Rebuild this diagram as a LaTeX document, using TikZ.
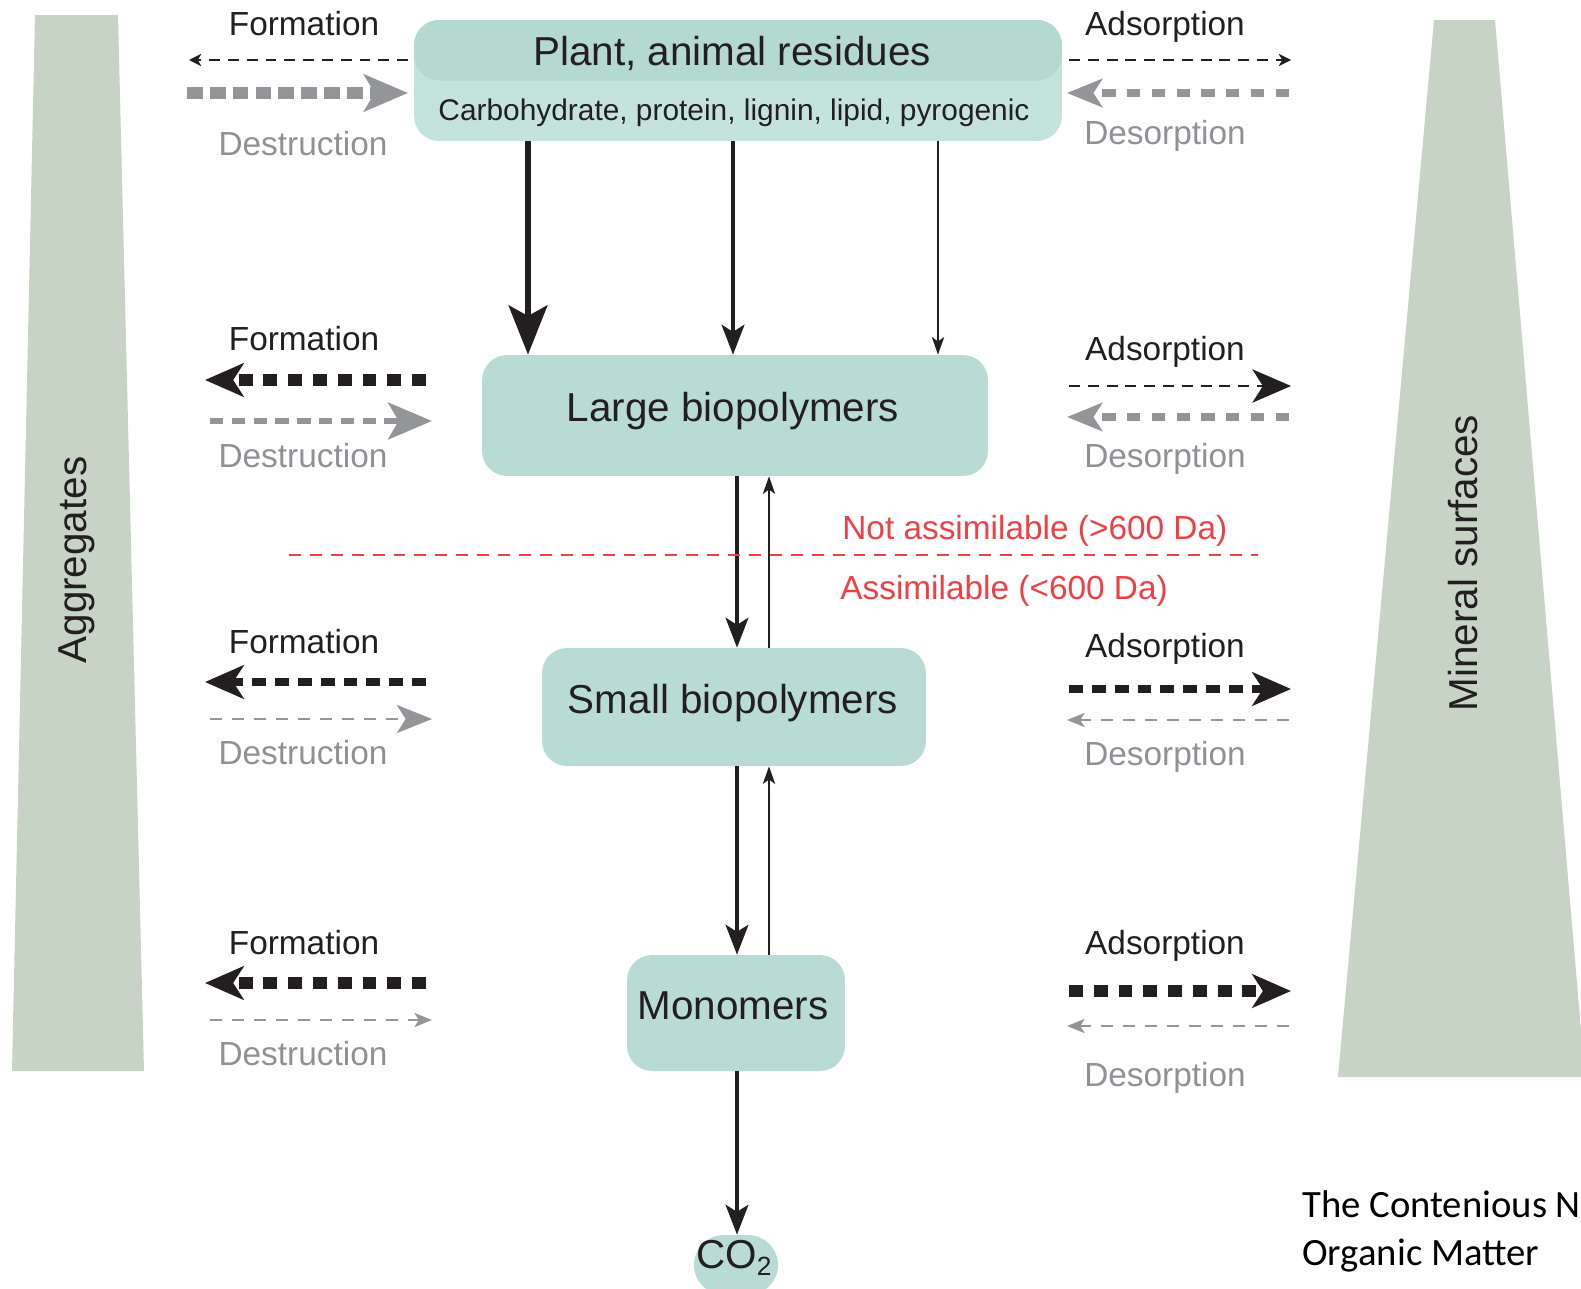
\documentclass[tikz,border=0pt]{standalone}
\usepackage{fontspec}
\setmainfont{Liberation Sans}
\newfontfamily\calibfont{Carlito}
\usetikzlibrary{arrows.meta}
\definecolor{boxc}{HTML}{B8DCD5}
\definecolor{boxtop}{HTML}{B3D9D1}
\definecolor{boxlow}{HTML}{C4E3DD}
\definecolor{trapc}{HTML}{C7D4C5}
\definecolor{inkc}{HTML}{231F20}
\definecolor{greyc}{HTML}{939598}
\definecolor{greytxt}{HTML}{8F9196}
\definecolor{redc}{HTML}{EE4046}
\begin{document}
\begin{tikzpicture}[x=0.02cm,y=-0.02cm,
  box/.style={fill=boxc, rounded corners=0.5cm, inner sep=0pt},
  lbl/.style={font=\fontsize{19}{23}\selectfont, text=inkc, anchor=base, inner sep=0pt},
  glbl/.style={lbl, text=greytxt},
  ttl/.style={font=\fontsize{23}{27}\selectfont, text=inkc, anchor=base, inner sep=0pt},
  subttl/.style={font=\fontsize{17}{20}\selectfont, text=inkc, anchor=base, inner sep=0pt},
  redlbl/.style={font=\fontsize{19}{23}\selectfont, text=redc, anchor=base west, inner sep=0pt},
  sidelbl/.style={font=\fontsize{23}{27}\selectfont, text=inkc, rotate=90, inner sep=0pt},
  blksq/.style={draw=inkc, line width=6.8pt, dash pattern=on 7.9pt off 6.2pt},
  blkmed/.style={draw=inkc, line width=4.5pt, dash pattern=on 7.9pt off 5.1pt},
  blkthin/.style={draw=inkc, line width=1.1pt, dash pattern=on 6.2pt off 4.5pt},
  greysqbig/.style={draw=greyc, line width=6.8pt, dash pattern=on 9pt off 4pt},
  greysq/.style={draw=greyc, line width=5.1pt, dash pattern=on 7.6pt off 6.5pt},
  greymed/.style={draw=greyc, line width=3.4pt, dash pattern=on 7.6pt off 4.8pt},
  greythin/.style={draw=greyc, line width=1.4pt, dash pattern=on 6.8pt off 5.7pt},
  greythinner/.style={draw=greyc, line width=1pt, dash pattern=on 6.8pt off 5.7pt},
  bighead/.style={-{Stealth[length=22pt, width=19pt, inset=6pt]}},
  biggrey/.style={-{Stealth[length=25pt, width=21pt, inset=6pt]}},
  midhead/.style={-{Stealth[length=20pt, width=16pt, inset=5pt]}},
  smallhead/.style={-{Stealth[length=10pt, width=8pt, inset=2.5pt]}},
  tinyhead/.style={-{Stealth[length=7pt, width=7pt, inset=2pt]}},
  vthick/.style={draw=inkc, line width=3.4pt, -{Stealth[length=28pt, width=22pt, inset=6pt]}},
  vmed/.style={draw=inkc, line width=2pt, -{Stealth[length=17pt, width=13pt, inset=4pt]}},
  vthin/.style={draw=inkc, line width=0.85pt, -{Stealth[length=10pt, width=7pt, inset=2.5pt]}}
]
\useasboundingbox (0,0) rectangle (1581,1288);
\clip (0,0) rectangle (1581,1288);

% side trapezoids
\fill[trapc] (35,15) -- (118,15) -- (144,1071) -- (12,1071) -- cycle;
\fill[trapc] (1434,20) -- (1495,20) -- (1585,1077) -- (1338,1077) -- cycle;
\node[sidelbl] (agg) at (77,560) {Aggregates};
\node[sidelbl] (mins) at (1463,563) {Mineral surfaces};

% boxes
\node[fill=boxlow, rounded corners=0.5cm, inner sep=0pt, minimum width=12.96cm, minimum height=2.42cm,
  path picture={\fill[boxtop] (path picture bounding box.north west) rectangle (path picture bounding box.east);}]
  (top) at (738,80.5) {};
\node[box, minimum width=10.12cm, minimum height=2.42cm] (large) at (735,415.5) {};
\node[box, minimum width=7.68cm, minimum height=2.36cm] (small) at (734,707) {};
\node[box, minimum width=4.36cm, minimum height=2.32cm] (mono) at (736,1013) {};
\node[box, rounded corners=0.6cm, minimum width=1.68cm, minimum height=1.2cm] (co2) at (736,1265) {};

\node[ttl] (t1) at (732,65) {Plant, animal residues};
\node[subttl] (t2) at (734,120) {Carbohydrate, protein, lignin, lipid, pyrogenic};
\node[ttl] (t3) at (733,421) {Large biopolymers};
\node[ttl] (t4) at (733,713) {Small biopolymers};
\node[ttl] (t5) at (733,1019) {Monomers};
\node[ttl] (t6) at (734,1268) {CO\raisebox{-4.5pt}{\fontsize{15}{15}\selectfont 2}};

% vertical arrows
\coordinate (xa) at (528,0);
\coordinate (xb) at (733,0);
\coordinate (xc) at (938,0);
\coordinate (xd) at (737,0);
\coordinate (xu) at (769,0);
\draw[vthick] (top.south -| xa) -- (large.north -| xa);
\draw[vmed] (top.south -| xb) -- (large.north -| xb);
\draw[vthin] (top.south -| xc) -- (large.north -| xc);
\draw[vmed] (large.south -| xd) -- (small.north -| xd);
\draw[vthin] (small.north -| xu) -- (large.south -| xu);
\draw[vmed] (small.south -| xd) -- (mono.north -| xd);
\draw[vthin] (mono.north -| xu) -- (small.south -| xu);
\draw[vmed] (mono.south -| xd) -- (co2.north -| xd);

% red threshold
\coordinate (rl) at (289,555);
\coordinate (rr) at (1258,555);
\draw[redc, line width=1.2pt, dash pattern=on 6.8pt off 5.1pt] (rl) -- (rr);
\node[redlbl] (na) at (842,539) {Not assimilable (>600 Da)};
\node[redlbl] (as) at (840,599) {Assimilable (<600 Da)};

% left side labels
\node[lbl] (f1) at (304,35) {Formation};
\node[glbl] (d1) at (303,155) {Destruction};
\node[lbl] (f2) at (304,350) {Formation};
\node[glbl] (d2) at (303,467) {Destruction};
\node[lbl] (f3) at (304,653) {Formation};
\node[glbl] (d3) at (303,764) {Destruction};
\node[lbl] (f4) at (304,954) {Formation};
\node[glbl] (d4) at (303,1065) {Destruction};

% right side labels
\node[lbl] (a1) at (1165,35) {Adsorption};
\node[glbl] (s1) at (1165,144) {Desorption};
\node[lbl] (a2) at (1165,360) {Adsorption};
\node[glbl] (s2) at (1165,467) {Desorption};
\node[lbl] (a3) at (1165,657) {Adsorption};
\node[glbl] (s3) at (1165,765) {Desorption};
\node[lbl] (a4) at (1165,954) {Adsorption};
\node[glbl] (s4) at (1165,1086) {Desorption};

% left side arrows
\coordinate (f1s) at (408,60);  \coordinate (f1e) at (189,60);
\coordinate (d1s) at (187,93);  \coordinate (d1e) at (408,93);
\coordinate (f2s) at (426,380); \coordinate (f2e) at (205,380);
\coordinate (d2s) at (210,421); \coordinate (d2e) at (432,421);
\coordinate (f3s) at (426,682); \coordinate (f3e) at (205,682);
\coordinate (d3s) at (210,719); \coordinate (d3e) at (432,719);
\coordinate (f4s) at (426,983); \coordinate (f4e) at (205,983);
\coordinate (d4s) at (210,1020); \coordinate (d4e) at (432,1020);
\draw[blkthin, tinyhead] (f1s) -- (f1e);
\draw[greysqbig, biggrey] (d1s) -- (d1e);
\draw[blksq, bighead] (f2s) -- (f2e);
\draw[greymed, biggrey] (d2s) -- (d2e);
\draw[blkmed, bighead] (f3s) -- (f3e);
\draw[greythin, midhead] (d3s) -- (d3e);
\draw[blksq, bighead] (f4s) -- (f4e);
\draw[greythinner, smallhead] (d4s) -- (d4e);

% right side arrows
\coordinate (a1s) at (1069,60);  \coordinate (a1e) at (1291,60);
\coordinate (s1s) at (1289,93);  \coordinate (s1e) at (1067,93);
\coordinate (a2s) at (1069,386); \coordinate (a2e) at (1291,386);
\coordinate (s2s) at (1289,417); \coordinate (s2e) at (1067,417);
\coordinate (a3s) at (1069,689); \coordinate (a3e) at (1291,689);
\coordinate (s3s) at (1289,720); \coordinate (s3e) at (1067,720);
\coordinate (a4s) at (1069,991); \coordinate (a4e) at (1291,991);
\coordinate (s4s) at (1289,1026); \coordinate (s4e) at (1067,1026);
\draw[blkthin, tinyhead] (a1s) -- (a1e);
\draw[greysq, midhead] (s1s) -- (s1e);
\draw[blkthin, bighead] (a2s) -- (a2e);
\draw[greysq, midhead] (s2s) -- (s2e);
\draw[blkmed, bighead] (a3s) -- (a3e);
\draw[greythin, smallhead] (s3s) -- (s3e);
\draw[blksq, bighead] (a4s) -- (a4e);
\draw[greythin, smallhead] (s4s) -- (s4e);

% caption (cut off at the right edge, as in the reference)
\node[font=\calibfont\fontsize{22}{27}\selectfont, anchor=base west, inner sep=0pt] (cap1) at (1302,1217) {The Contenious Nature of Soil};
\node[font=\calibfont\fontsize{22}{27}\selectfont, anchor=base west, inner sep=0pt] (cap2) at (1302,1265) {Organic Matter};
\end{tikzpicture}
\end{document}
